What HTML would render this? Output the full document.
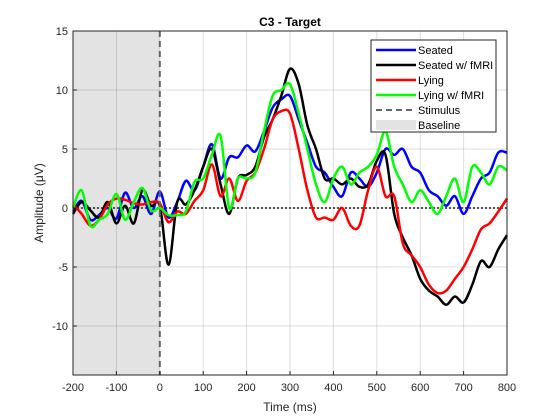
<!DOCTYPE html>
<html><head><meta charset="utf-8"><style>
html,body{margin:0;padding:0;background:#fff;}
svg{display:block;font-family:"Liberation Sans",sans-serif;}
</style></head><body>
<svg id="chart" width="560" height="420" viewBox="0 0 560 420" xmlns="http://www.w3.org/2000/svg"></svg>
<script>
const times=[-200,-180,-160,-140,-120,-100,-80,-60,-40,-20,0,20,40,60,80,100,120,140,160,180,200,220,240,260,280,300,320,340,360,380,400,420,440,460,480,500,520,540,560,580,600,620,640,660,680,700,720,740,760,780,800];
const seated=[-0.3,0.6,-1.0,-0.6,0.0,-0.9,1.3,0.0,1.0,-0.5,1.4,-0.8,0.5,2.3,1.5,3.5,5.4,2.5,4.3,4.3,5.3,4.8,6.5,8.5,9.2,9.5,7.5,5.5,3.5,3.0,1.8,1.0,3.0,2.5,1.8,3.0,5.0,4.5,5.0,3.5,3.0,1.5,1.0,0.2,1.0,-0.5,1.0,2.5,3.0,4.7,4.7];
const seatedFmri=[-0.5,0.5,-0.2,-0.8,0.5,-1.3,0.2,-1.3,1.5,0.2,0.2,-4.8,0.5,0.3,1.5,3.5,5.0,2.0,-0.5,2.5,2.8,3.5,6.0,7.5,9.5,11.8,10.5,7.0,5.0,2.5,2.5,2.0,2.5,1.8,2.0,4.0,4.5,-0.5,-2.5,-4.0,-6.0,-7.0,-7.5,-8.2,-7.5,-8.0,-6.5,-4.5,-5.0,-3.5,-2.3];
const lying=[0.3,-0.5,-1.5,-1.0,0.3,0.8,0.7,0.4,0.3,0.5,0.4,-1.2,-0.3,-0.5,0.6,1.5,3.7,1.0,2.5,0.6,2.3,3.0,5.0,7.5,8.2,8.0,5.0,1.5,-0.8,-0.8,-1.0,0.0,-1.5,-1.5,1.5,3.5,1.0,1.0,-3.0,-4.0,-5.0,-6.5,-7.2,-7.0,-6.0,-5.0,-3.5,-1.8,-1.3,-0.3,0.8];
const lyingFmri=[0.0,1.5,-1.5,-1.0,-0.5,1.2,-1.0,0.5,1.7,-0.2,0.0,-0.6,-0.6,-0.3,2.2,2.5,4.5,6.1,0.0,2.5,2.5,3.0,6.5,9.5,10.0,10.5,8.0,5.0,2.0,0.5,2.5,3.5,2.0,3.0,3.5,4.5,6.5,3.5,2.0,0.5,1.5,0.5,-0.5,1.0,2.5,0.5,3.5,3.0,2.0,3.5,3.2];
const xTicks=[-200,-100,0,100,200,300,400,500,600,700,800];
const yTicks=[-10,-5,0,5,10,15];
const seriesNames=["Seated","Seated w/ fMRI","Lying","Lying w/ fMRI"];

const NS="http://www.w3.org/2000/svg";
const svg=document.getElementById('chart');
const L=73,R=507,T=31,B=375,xmin=-200,xmax=800,ymin=-14.15,ymax=15;
const X=t=>L+(t-xmin)/(xmax-xmin)*(R-L);
const Y=v=>B-(v-ymin)/(ymax-ymin)*(B-T);
function mk(tag,attrs,parent){const e=document.createElementNS(NS,tag);for(const k in attrs)e.setAttribute(k,attrs[k]);(parent||svg).appendChild(e);return e;}
function smooth(pts){
  let d='M'+pts[0][0].toFixed(1)+','+pts[0][1].toFixed(1);
  for(let i=0;i<pts.length-1;i++){
    const p0=pts[Math.max(0,i-1)],p1=pts[i],p2=pts[i+1],p3=pts[Math.min(pts.length-1,i+2)];
    const c1x=p1[0]+(p2[0]-p0[0])/6,c1y=p1[1]+(p2[1]-p0[1])/6;
    const c2x=p2[0]-(p3[0]-p1[0])/6,c2y=p2[1]-(p3[1]-p1[1])/6;
    d+=' C'+c1x.toFixed(1)+','+c1y.toFixed(1)+' '+c2x.toFixed(1)+','+c2y.toFixed(1)+' '+p2[0].toFixed(1)+','+p2[1].toFixed(1);
  }
  return d;
}

let e=mk('rect',{x:L,y:T,width:R-L,height:B-T,fill:'#fff'});


e=mk('rect',{x:X(-200),y:T,width:X(0)-X(-200),height:B-T,fill:'#e3e3e3'});


const grid=mk('g',{stroke:'#000','stroke-opacity':0.13,'stroke-width':1});


xTicks.forEach(t=>mk('line',{x1:X(t),x2:X(t),y1:T,y2:B},grid));
yTicks.forEach(v=>mk('line',{x1:L,x2:R,y1:Y(v),y2:Y(v)},grid));
e=mk('line',{x1:L,x2:R,y1:Y(0),y2:Y(0),stroke:'#555','stroke-width':2,'stroke-dasharray':'2,2'});


const colors=['#0000ff','#000000','#ff0000','#00ff00'];
[seated,seatedFmri,lying,lyingFmri].forEach((s,i)=>{
  const pts=s.map((v,j)=>[X(times[j]),Y(v)]);
  const p=mk('path',{d:smooth(pts),fill:'none',stroke:colors[i],'stroke-width':2.5,'stroke-linejoin':'round'});
  
  
});
e=mk('line',{x1:X(0),x2:X(0),y1:T,y2:B,stroke:'#666','stroke-width':2,'stroke-dasharray':'6,4'});


e=mk('rect',{x:L,y:T,width:R-L,height:B-T,fill:'none',stroke:'#262626','stroke-width':1});


const ax=mk('g',{'font-size':11,fill:'#262626'});


xTicks.forEach(t=>{mk('line',{x1:X(t),x2:X(t),y1:B,y2:B-4,stroke:'#262626'},ax);const tx=mk('text',{x:X(t),y:B+16,'text-anchor':'middle'},ax);tx.textContent=t;

});
yTicks.forEach(v=>{mk('line',{x1:L,x2:L+4,y1:Y(v),y2:Y(v),stroke:'#262626'},ax);const tx=mk('text',{x:L-5,y:Y(v)+4,'text-anchor':'end'},ax);tx.textContent=v;

});
e=mk('text',{x:290,y:411,'text-anchor':'middle','font-size':12,fill:'#262626'});e.textContent='Time (ms)';


e=mk('text',{x:0,y:0,'text-anchor':'middle','font-size':12,fill:'#262626',transform:'translate(43,203) rotate(-90)'});e.textContent='Amplitude (\u03bcV)';


e=mk('text',{x:290,y:26,'text-anchor':'middle','font-size':12,'font-weight':'bold',fill:'#000'});e.textContent='C3 - Target';


const lg=mk('g',{});


mk('rect',{x:371,y:40,width:125,height:92,fill:'#fff',stroke:'#262626','stroke-width':1},lg);
const entries=[['Seated','#0000ff','line'],['Seated w/ fMRI','#000','line'],['Lying','#ff0000','line'],['Lying w/ fMRI','#00ff00','line'],['Stimulus','#666','dash'],['Baseline','#e3e3e3','box']];
entries.forEach((en,i)=>{
  const y=50+i*15;
  const g=mk('g',{},lg);
  
  
  if(en[2]==='box')mk('rect',{x:376,y:y-5,width:40,height:10,fill:en[1]},g);
  else mk('line',{x1:376,x2:416,y1:y,y2:y,stroke:en[1],'stroke-width':en[2]==='dash'?2:2.5,'stroke-dasharray':en[2]==='dash'?'6,4':'none'},g);
  const t=mk('text',{x:418,y:y+4,'font-size':11,fill:'#000'},g);t.textContent=en[0];
});
</script>
</body></html>
